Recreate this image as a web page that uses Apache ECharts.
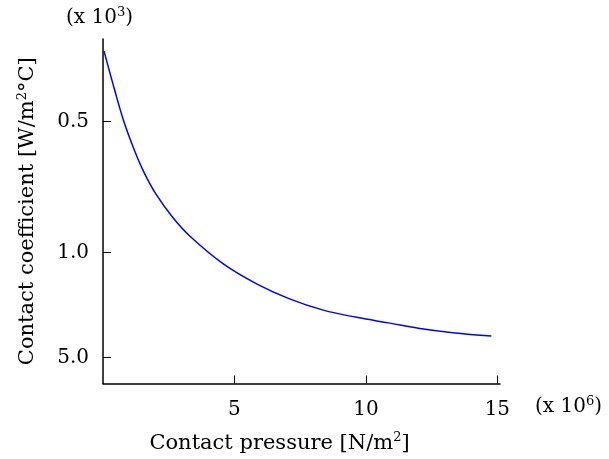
<!DOCTYPE html>
<html>
<head>
<meta charset="utf-8">
<script src="https://cdn.jsdelivr.net/npm/echarts@6/dist/echarts.min.js"></script>
<style>
  html, body { margin: 0; padding: 0; background: #fff; }
  #chart { width: 609px; height: 459px; }
</style>
</head>
<body>
<div id="chart"></div>
<script>
// pressure (x 10^6 N/m2)
const pressure = [0.04, 0.43, 0.81, 1.19, 1.56, 2.01, 2.64, 3.33, 4.59, 5.86, 7.12, 8.38, 9.65, 10.91, 12.05, 13.30, 14.77]
// plotted value (reciprocal scale, axis labelled below)
const coeff = [2.537, 2.250, 1.990, 1.783, 1.612, 1.447, 1.271, 1.120, 0.911, 0.759, 0.644, 0.560, 0.505, 0.461, 0.420, 0.388, 0.362]

const xTicks = [5, 10, 15]
const yTickValues = [2, 1, 0.2]
const yTickLabels = ['0.5', '1.0', '5.0']

const FONT = 'DejaVu Serif'
const sup = { fontSize: 13, fontFamily: FONT, color: '#000', padding: [0, 0, 11, 0] }

const chart = echarts.init(document.getElementById('chart'))
chart.setOption({
  animation: false,
  textStyle: { fontFamily: FONT, color: '#000' },
  grid: { left: 103, right: 109, top: 39, bottom: 75 },
  xAxis: {
    type: 'value',
    min: 0,
    max: 15.1,
    name: 'Contact pressure [N/m{sup|2}]',
    nameLocation: 'middle',
    nameGap: 48,
    nameTextStyle: { fontSize: 21, fontFamily: FONT, color: '#000', padding: [0, 44, 0, 0], rich: { sup } },
    splitLine: { show: false },
    axisLine: { onZero: false, lineStyle: { color: '#000', width: 1.5 } },
    axisTick: { inside: true, length: 8, customValues: xTicks, lineStyle: { color: '#000', width: 1 } },
    axisLabel: { customValues: xTicks, margin: 16, fontSize: 20, fontFamily: FONT, color: '#000' }
  },
  yAxis: {
    type: 'value',
    min: 0,
    max: 2.63,
    name: 'Contact coefficient [W/m{sup|2}°C]',
    nameLocation: 'middle',
    nameRotate: 90,
    nameGap: 63,
    nameTextStyle: { fontSize: 21, fontFamily: FONT, color: '#000', rich: { sup } },
    splitLine: { show: false },
    axisLine: { onZero: false, lineStyle: { color: '#000', width: 1.5 } },
    axisTick: { inside: true, length: 8, customValues: yTickValues, lineStyle: { color: '#000', width: 1 } },
    axisLabel: {
      customValues: yTickValues,
      margin: 14,
      fontSize: 20,
      fontFamily: FONT,
      color: '#000',
      formatter: v => yTickLabels[yTickValues.indexOf(v)]
    }
  },
  graphic: [
    {
      type: 'text',
      left: 66, top: 6,
      style: {
        text: '(x 10{sup|3})',
        font: '20px "DejaVu Serif"',
        fill: '#000',
        rich: { sup }
      }
    },
    {
      type: 'text',
      left: 535, top: 395,
      style: {
        text: '(x 10{sup|6})',
        font: '20px "DejaVu Serif"',
        fill: '#000',
        rich: { sup }
      }
    }
  ],
  series: [
    {
      type: 'line',
      data: pressure.map((p, i) => [p, coeff[i]]),
      smooth: 0.4,
      showSymbol: false,
      lineStyle: { color: '#0000ff', width: 1.5 }
    }
  ]
})
</script>
</body>
</html>
